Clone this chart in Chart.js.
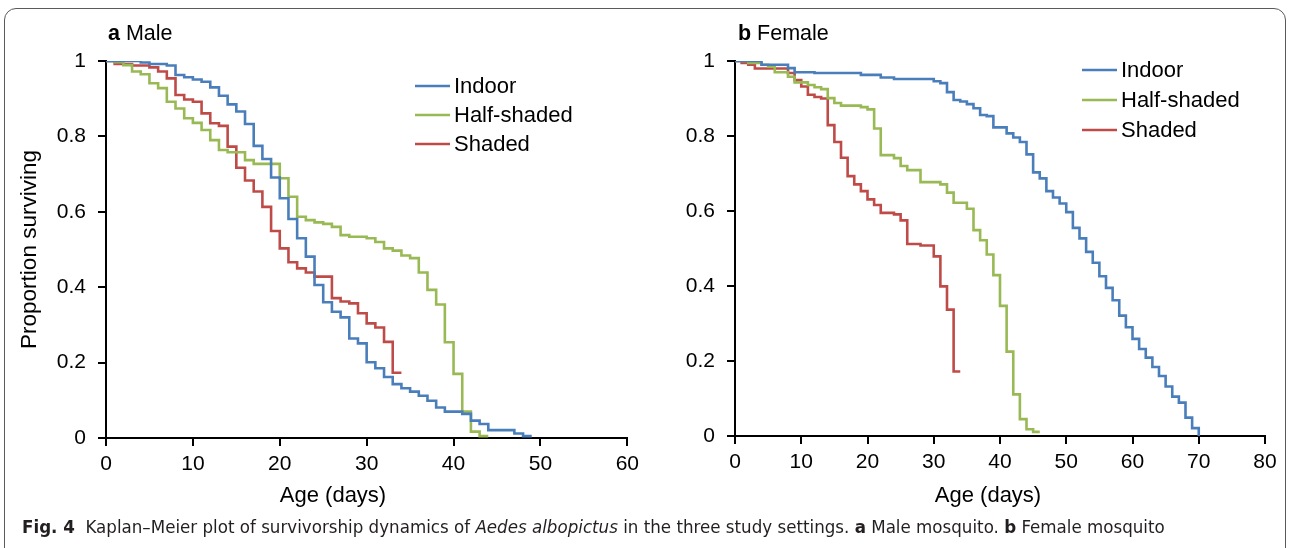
<!DOCTYPE html>
<html>
<head>
<meta charset="utf-8">
<script src="https://cdn.jsdelivr.net/npm/chart.js@4/dist/chart.umd.min.js"></script>
<style>
body { margin: 0; background: #fff; width: 1290px; height: 548px; overflow: hidden; position: relative; font-family: "Liberation Sans", Arial, sans-serif; }
#frame { position: absolute; left: 4px; top: 8px; width: 1280px; height: 620px; border: 1px solid #5a5a5a; border-radius: 12px; }
#maleChart { position: absolute; left: 0; top: 0; }
#femaleChart { position: absolute; left: 640px; top: 0; }
.panel { position: absolute; top: 21px; font-size: 21.5px; line-height: 24px; color: #000; }
#cap { position: absolute; left: 22px; top: 517px; font-size: 17px; line-height: 20px; white-space: nowrap; transform-origin: 0 0; color: #231f20;
       font-family: "Liberation Sans Narrow", "DejaVu Sans Condensed", "Liberation Sans", sans-serif; }
</style>
</head>
<body>
<div id="frame"></div>
<canvas id="maleChart" width="645" height="520"></canvas>
<canvas id="femaleChart" width="650" height="520"></canvas>
<div class="panel" style="left:108px"><b>a</b> Male</div>
<div class="panel" style="left:738px"><b>b</b> Female</div>
<div id="cap"><b>Fig. 4</b>&nbsp; Kaplan–Meier plot of survivorship dynamics of <i>Aedes albopictus</i> in the three study settings. <b>a</b> Male mosquito. <b>b</b> Female mosquito</div>
<script>
// 범례 이름
const seriesNames = ['Indoor', 'Half-shaded', 'Shaded'];

// a Male - 일(day)과 생존율
const maleIndoorDays = [0,4,5,7,8,9,10,11,12,13,14,15,16,17,18,19,20,21,22,23,24,25,26,27,28,29,30,31,32,33,34,35,36,37,38,39,41,42,43,44,47,48,49];
const maleIndoorSurv = [1,0.996,0.992,0.988,0.963,0.957,0.951,0.945,0.930,0.908,0.885,0.866,0.833,0.775,0.740,0.691,0.636,0.581,0.530,0.481,0.406,0.360,0.335,0.320,0.264,0.251,0.201,0.185,0.162,0.143,0.132,0.123,0.112,0.099,0.081,0.070,0.064,0.046,0.037,0.021,0.012,0.005,0.005];
const maleHalfDays = [0,1,2,3,4,5,6,7,8,9,10,11,12,13,14,16,17,20,21,22,23,24,25,26,27,28,30,31,32,33,34,35,36,37,38,39,40,41,42,43,44];
const maleHalfSurv = [1,0.997,0.989,0.972,0.965,0.941,0.928,0.892,0.874,0.848,0.836,0.817,0.790,0.764,0.758,0.737,0.727,0.689,0.640,0.587,0.578,0.572,0.568,0.560,0.538,0.534,0.530,0.520,0.503,0.497,0.484,0.477,0.439,0.393,0.354,0.254,0.170,0.070,0.017,0.005,0.005];
const maleShadedDays = [0,1,3,5,6,7,8,9,10,11,12,13,14,15,16,17,18,19,20,21,22,23,24,26,27,28,29,30,31,32,33,34];
const maleShadedSurv = [1,0.992,0.988,0.983,0.972,0.954,0.910,0.898,0.892,0.861,0.835,0.828,0.773,0.717,0.683,0.654,0.613,0.549,0.503,0.466,0.450,0.439,0.428,0.371,0.362,0.357,0.331,0.304,0.293,0.255,0.173,0.173];

// b Female
const femaleIndoorDays = [0,4,8,9,12,19,22,24,30,31,32,33,34,35,36,37,38,39,41,42,43,44,45,46,47,48,49,50,51,52,53,54,55,56,57,58,59,60,61,62,63,64,65,66,67,68,69,70];
const femaleIndoorSurv = [1,0.990,0.981,0.970,0.968,0.963,0.956,0.952,0.946,0.941,0.917,0.896,0.892,0.885,0.874,0.856,0.853,0.823,0.807,0.796,0.784,0.751,0.703,0.687,0.653,0.636,0.620,0.597,0.555,0.527,0.491,0.462,0.426,0.395,0.362,0.321,0.290,0.259,0.232,0.209,0.184,0.160,0.132,0.105,0.089,0.049,0.021,0];
const femaleHalfDays = [0,2,4,5,6,8,9,11,12,13,14,15,16,19,20,21,22,24,25,26,28,31,32,33,35,36,37,38,39,40,41,42,43,44,45,46];
const femaleHalfSurv = [1,0.995,0.990,0.985,0.970,0.958,0.943,0.936,0.930,0.925,0.901,0.888,0.881,0.877,0.871,0.820,0.749,0.741,0.720,0.709,0.677,0.671,0.649,0.622,0.606,0.549,0.522,0.484,0.429,0.347,0.225,0.111,0.045,0.018,0.011,0.011];
const femaleShadedDays = [0,1,2,3,8,9,10,11,12,13,14,15,16,17,18,19,20,21,22,24,25,26,28,30,31,32,33,34];
const femaleShadedSurv = [1,0.995,0.990,0.980,0.968,0.949,0.932,0.910,0.904,0.900,0.829,0.784,0.742,0.693,0.671,0.653,0.631,0.616,0.595,0.591,0.575,0.512,0.508,0.479,0.399,0.337,0.172,0.172];

const lineColors = ['#4A7EBB', '#98B954', '#BE4B48'];
const FONT = '"Liberation Sans", Arial, sans-serif';

Chart.defaults.font.family = FONT;
Chart.defaults.color = '#000';

function toPoints(days, surv) {
    return days.map((d, i) => ({ x: d, y: surv[i] }));
}

function makeSets(list) {
    return list.map((s, i) => ({
        label: seriesNames[i],
        data: toPoints(s[0], s[1]),
        borderColor: lineColors[i],
        borderWidth: 2.6,
        pointRadius: 0,
        stepped: true,
        fill: false
    }));
}

// 오른쪽 위에 그리는 범례
const sideLegend = {
    id: 'sideLegend',
    afterDraw(chart, args, opts) {
        const ctx = chart.ctx;
        ctx.save();
        ctx.font = '22px ' + FONT;
        ctx.textBaseline = 'middle';
        chart.data.datasets.forEach((ds, i) => {
            const y = opts.y + i * opts.gap;
            ctx.strokeStyle = ds.borderColor;
            ctx.lineWidth = 2.6;
            ctx.beginPath();
            ctx.moveTo(opts.x, y);
            ctx.lineTo(opts.x + 35, y);
            ctx.stroke();
            ctx.fillStyle = '#000';
            ctx.fillText(ds.label, opts.x + 39, y + 1);
        });
        ctx.restore();
    }
};

// x축 제목 (원본처럼 약간 왼쪽으로 치우침)
const xTitle = {
    id: 'xTitle',
    afterDraw(chart, args, opts) {
        const ctx = chart.ctx;
        ctx.save();
        ctx.font = '22px ' + FONT;
        ctx.textAlign = 'center';
        ctx.textBaseline = 'middle';
        ctx.fillStyle = '#000';
        ctx.fillText(opts.text, opts.x, opts.y);
        ctx.restore();
    }
};

function makeConfig(sets, xMax, yWidth, xHeight, padRight, yTitle, legendPos, titlePos) {
    return {
        type: 'line',
        data: { datasets: sets },
        plugins: [sideLegend, xTitle],
        options: {
            responsive: false,
            animation: false,
            layout: { padding: { top: 61, right: padRight, left: 0, bottom: 0 } },
            plugins: {
                legend: { display: false },
                tooltip: { enabled: false },
                sideLegend: legendPos,
                xTitle: titlePos
            },
            scales: {
                x: {
                    type: 'linear',
                    min: 0,
                    max: xMax,
                    ticks: { stepSize: 10, padding: 6, font: { size: 21 } },
                    grid: { drawOnChartArea: false, tickLength: 8, color: '#000', lineWidth: 2 },
                    border: { color: '#000', width: 2 },
                    afterFit: s => { s.height = xHeight; }
                },
                y: {
                    min: 0,
                    max: 1,
                    ticks: {
                        stepSize: 0.2, padding: 12, font: { size: 21 },
                        callback: v => String(+v.toFixed(1))
                    },
                    grid: { drawOnChartArea: false, tickLength: 8, color: '#000', lineWidth: 2 },
                    border: { color: '#000', width: 2 },
                    title: { display: !!yTitle, text: yTitle, font: { size: 22.5 }, padding: { top: 16.5, bottom: 0 } },
                    afterFit: s => { s.width = yWidth; }
                }
            }
        }
    };
}

new Chart(document.getElementById('maleChart'), makeConfig(
    makeSets([[maleIndoorDays, maleIndoorSurv], [maleHalfDays, maleHalfSurv], [maleShadedDays, maleShadedSurv]]),
    60, 106, 82, 16, 'Proportion surviving', { x: 415, y: 86, gap: 29 },
    { text: 'Age (days)', x: 333, y: 496 }
));

new Chart(document.getElementById('femaleChart'), makeConfig(
    makeSets([[femaleIndoorDays, femaleIndoorSurv], [femaleHalfDays, femaleHalfSurv], [femaleShadedDays, femaleShadedSurv]]),
    80, 95, 84, 25, '', { x: 442, y: 70, gap: 30 },
    { text: 'Age (days)', x: 348, y: 496 }
));

// 캡션 폭을 원본에 맞춤
const cap = document.getElementById('cap');
cap.style.transform = 'scaleX(' + (1143 / cap.scrollWidth) + ')';
</script>
</body>
</html>
